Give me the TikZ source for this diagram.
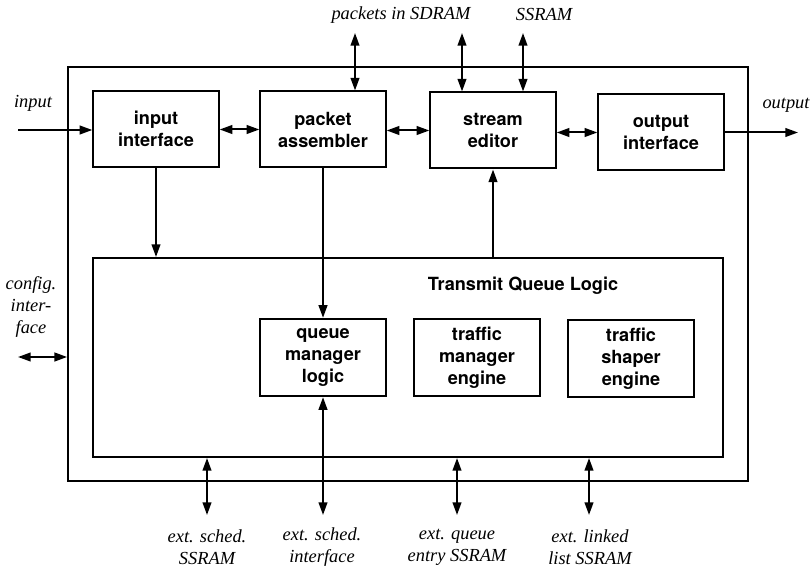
\documentclass[tikz,border=0pt]{standalone}
\usepackage{fontspec}
\setmainfont{Liberation Serif}
\newfontfamily\heros{TeX Gyre Heros}
\usetikzlibrary{arrows.meta}
\begin{document}
\begin{tikzpicture}[x=0.75pt,y=-0.75pt,
  blk/.style={draw,line width=1.5pt,minimum width=94pt,minimum height=57pt,
    inner sep=0pt,align=center,font=\heros\bfseries\fontsize{13.6}{16.5}\selectfont},
  frame/.style={draw,line width=1.3pt,inner sep=0pt},
  ext/.style={font=\itshape\fontsize{13.8}{16.5}\selectfont,align=center,inner sep=0pt},
  link/.style={line width=1.5pt,-{Triangle[length=9.5pt,width=6.5pt]}},
  blink/.style={line width=1.5pt,{Triangle[length=9.5pt,width=6.5pt]}-{Triangle[length=9.5pt,width=6.5pt]}}]
\useasboundingbox (0,0) rectangle (812,573);

% enclosing chip boundary and transmit queue block
\node[frame,minimum width=510pt,minimum height=310.5pt] (chip) at (408,274) {};
\node[frame,line width=1.5pt,minimum width=472.5pt,minimum height=149.25pt] (tql) at (408,357.5) {};
\node[font=\heros\bfseries\fontsize{13.6}{16}\selectfont] (tqlname) at (523,286) {Transmit Queue Logic};

% pipeline blocks
\node[blk] (ii) at (156,129) {input\\interface};
\node[blk] (pa) at (323,129.5) {packet\\assembler};
\node[blk] (se) at (493,130.5) {stream\\editor};
\node[blk] (oi) at (661,132.5) {output\\interface};

% queue logic blocks
\node[blk,minimum height=58pt] (qm) at (323,357.5) {queue\\manager\\logic};
\node[blk,minimum height=58pt] (tm) at (477,357.5) {traffic\\manager\\engine};
\node[blk,minimum height=58pt] (ts) at (631,358.5) {traffic\\shaper\\engine};

% external labels
\node[ext] (linput) at (33,103) {input};
\node[ext] (loutput) at (786,105) {output};
\node[ext] (lsdram) at (401,15) {packets in SDRAM};
\node[ext] (lssram) at (544,15) {SSRAM};
\node[ext] (lcfg) at (31,307) {config.\\inter-\\face};
\node[ext] (lsched) at (207,547) {ext. sched.\\SSRAM};
\node[ext] (lschedif) at (322,547) {ext. sched.\\interface};
\node[ext] (lqueue) at (457,547) {ext. queue\\entry SSRAM};
\node[ext] (llist) at (590,547) {ext. linked\\list SSRAM};

% free ends of the external connectors
\coordinate (inp) at (18,130);
\coordinate (outp) at (798,132.5);
\coordinate (sdram) at (355,33);
\coordinate (ssram1) at (462,33);
\coordinate (ssram2) at (523,33);
\coordinate (cfg) at (18,357);
\coordinate (b1) at (207,515);
\coordinate (b2) at (323,515);
\coordinate (b3) at (457,515);
\coordinate (b4) at (589,515);

% datapath
\draw[link] (inp) -- (inp -| ii.west);
\draw[blink] (ii.east |- pa.west) -- (pa.west);
\draw[blink] (pa.east |- se.west) -- (se.west);
\draw[blink] (se.east |- oi.west) -- (oi.west);
\draw[link] (oi.east) -- (outp);

% memory interfaces at the top
\draw[blink] (sdram) -- (sdram |- pa.north);
\draw[blink] (ssram1) -- (ssram1 |- se.north);
\draw[blink] (ssram2) -- (ssram2 |- se.north);

% internal connections
\draw[link] (ii.south) -- (ii.south |- tql.north);
\draw[link] (pa.south) -- (qm.north);
\draw[link] (se.south |- tql.north) -- (se.south);

% configuration interface
\draw[blink] (cfg) -- (cfg -| chip.west);

% memory interfaces at the bottom
\draw[blink] (b1 |- tql.south) -- (b1);
\draw[blink] (qm.south) -- (b2);
\draw[blink] (b3 |- tql.south) -- (b3);
\draw[blink] (b4 |- tql.south) -- (b4);
\end{tikzpicture}
\end{document}
